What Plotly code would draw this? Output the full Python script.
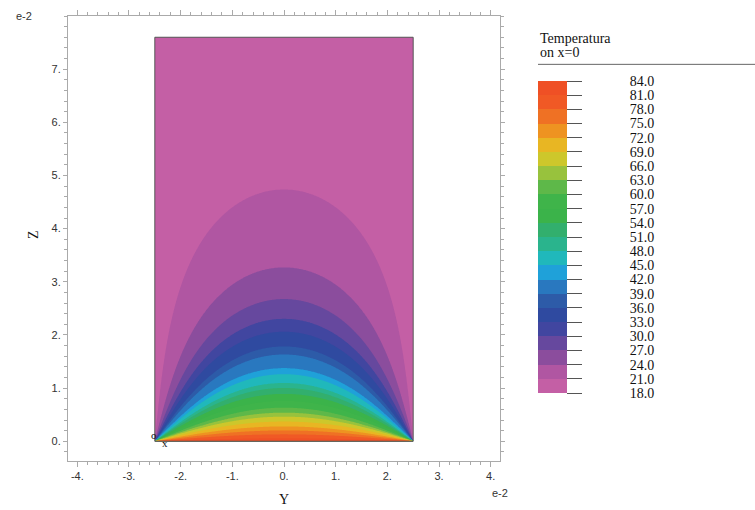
import numpy as np
import plotly.graph_objects as go

# ---- data ----
# contour levels (temperature) and the height (in 1e-2 m) where each level crosses the centre line y=0
temp_levels = [84, 81, 78, 75, 72, 69, 66, 63, 60, 57, 54, 51, 48, 45, 42, 39, 36, 33, 30, 27, 24, 21, 18]
apex_height = [0.0, 0.056, 0.130, 0.204, 0.279, 0.371, 0.464, 0.538, 0.631, 0.761, 0.891, 1.003,
               1.095, 1.263, 1.374, 1.634, 1.782, 2.061, 2.302, 2.674, 3.268, 4.735, 7.6]
# domain (1e-2 m)
y_span = [-2.5, 2.5]
z_span = [0.0, 7.6]

# band colours from 18 (bottom) to 84 (top)
band_colors = ["#C45FA5", "#A050A0", "#7D4B9B", "#5A46A0", "#3646A0", "#2D4BA0", "#2D5FAA",
               "#287DC3", "#1EA6DC", "#20B9B9", "#2AB48C", "#32AF6E", "#3BB34A", "#3CB44A",
               "#55B74B", "#8CC041", "#C5C92D", "#E6C024", "#EE9E20", "#EF7D23", "#F05F25", "#EF5025"]

x_tick_vals = [-4, -3, -2, -1, 0, 1, 2, 3, 4]
x_tick_text = ["-4.", "-3.", "-2.", "-1.", "0.", "1.", "2.", "3.", "4."]
y_tick_vals = [0, 1, 2, 3, 4, 5, 6, 7]
y_tick_text = ["0.", "1.", "2.", "3.", "4.", "5.", "6.", "7."]
cb_vals = list(range(18, 85, 3))

# ---- build field: each isotherm follows the strip-shaped arc through the bottom corners ----
W = (y_span[1] - y_span[0]) * 0.01
yy = np.linspace(y_span[0], y_span[1], 321) * 0.01
zz = np.linspace(z_span[0], z_span[1], 489) * 0.01
Y, Z = np.meshgrid(yy, zz)
s_side = np.sin(np.pi * (Y - yy[0]) / W)
s_side = np.clip(s_side, 1e-12, None)
with np.errstate(over="ignore", invalid="ignore", divide="ignore"):
    ratio = np.sinh(np.pi * Z / W) / s_side
    zc = W / np.pi * np.arcsinh(ratio)
zc = np.nan_to_num(zc, nan=0.0, posinf=1.0)
T = np.interp(zc, np.array(apex_height) * 0.01, temp_levels)
T[0, :] = 84
T[1:, 0] = 18
T[1:, -1] = 18
T = np.clip(T, 18.05, 83.95)

# colourscale: below-start band, 22 bands, above-end band
cols = [band_colors[0]] + band_colors + [band_colors[-1]]
n = len(cols) - 1
colorscale = [[k / n, c] for k, c in enumerate(cols)]

PW, PH = 432, 451  # plot area size in px (x 68..500, y 10..461)


def px(x):
    return (x - 68) / PW


def py(y):
    return (461 - y) / PH


nb = "\u00a0" * 13
fig = go.Figure()
fig.add_trace(go.Contour(
    x=yy, y=zz, z=T,
    colorscale=colorscale,
    zmin=18, zmax=84,
    contours=dict(start=18, end=84, size=3, coloring="fill", showlines=False),
    line=dict(width=0),
    colorbar=dict(
        x=px(538), xanchor="left", xpad=0,
        y=py(234), yanchor="middle", ypad=0,
        lenmode="pixels", len=312, thickness=29, thicknessmode="pixels",
        outlinewidth=0,
        tickmode="array", tickvals=cb_vals, ticktext=[nb + f"{v:.1f}" for v in cb_vals],
        ticks="outside", ticklen=15, tickcolor="#555", tickwidth=1,
        tickfont=dict(family="Liberation Serif", size=14, color="#111"),
    ),
    hoverinfo="skip",
))

fig.add_shape(type="rect", x0=y_span[0] * 0.01, x1=y_span[1] * 0.01, y0=z_span[0] * 0.01, y1=z_span[1] * 0.01,
              line=dict(color="#555", width=1), xref="x", yref="y")
fig.add_shape(type="line", x0=px(538), x1=px(755), y0=py(59), y1=py(59), xref="paper", yref="paper",
              line=dict(color="#666", width=1))

fig.update_layout(
    width=755, height=510,
    margin=dict(l=68, r=255, t=10, b=49),
    paper_bgcolor="white", plot_bgcolor="white",
    showlegend=False,
    xaxis=dict(range=[-0.0418, 0.0418], tickmode="array", tickvals=[v * 0.01 for v in x_tick_vals],
               ticktext=x_tick_text, showgrid=False, zeroline=False, showline=True, linecolor="#aaa",
               mirror="allticks", ticks="outside", ticklen=5, tickcolor="#aaa",
               minor=dict(dtick=0.002, tick0=0, ticks="outside", ticklen=3, tickcolor="#aaa", showgrid=False),
               tickfont=dict(family="Liberation Sans", size=11, color="#333")),
    yaxis=dict(range=[-0.00371, 0.0800], tickmode="array", tickvals=[v * 0.01 for v in y_tick_vals],
               ticktext=y_tick_text, showgrid=False, zeroline=False, showline=True, linecolor="#aaa",
               mirror="allticks", ticks="outside", ticklen=4, tickcolor="#aaa",
               minor=dict(dtick=0.002, tick0=0, ticks="outside", ticklen=3, tickcolor="#aaa", showgrid=False),
               tickfont=dict(family="Liberation Sans", size=11, color="#333")),
)

ann = [
    dict(text="Temperatura", x=px(538), y=py(33), xanchor="left", yanchor="middle",
         font=dict(family="Liberation Serif", size=14, color="#111")),
    dict(text="on x=0", x=px(538), y=py(47), xanchor="left", yanchor="middle",
         font=dict(family="Liberation Serif", size=14, color="#111")),
    dict(text="e-2", x=px(24), y=py(10), xanchor="center", yanchor="middle",
         font=dict(family="Liberation Sans", size=11, color="#333")),
    dict(text="e-2", x=px(500), y=py(493), xanchor="center", yanchor="middle",
         font=dict(family="Liberation Sans", size=11, color="#333")),
    dict(text="Y", x=px(284), y=py(500), xanchor="center", yanchor="middle",
         font=dict(family="Liberation Serif", size=14, color="#111")),
    dict(text="Z", x=px(33), y=py(232), xanchor="center", yanchor="middle", textangle=-90,
         font=dict(family="Liberation Serif", size=14, color="#111")),
    dict(text="o", x=px(154), y=py(435), xanchor="center", yanchor="middle",
         font=dict(family="Liberation Serif", size=11, color="#111")),
    dict(text="x", x=px(165), y=py(443), xanchor="center", yanchor="middle",
         font=dict(family="Liberation Serif", size=11, color="#111")),
]
for a in ann:
    a.update(xref="paper", yref="paper", showarrow=False)
fig.update_layout(annotations=ann)

fig.write_html("out.html", post_script="document.body.style.margin='0';",
               config={"displayModeBar": False})
